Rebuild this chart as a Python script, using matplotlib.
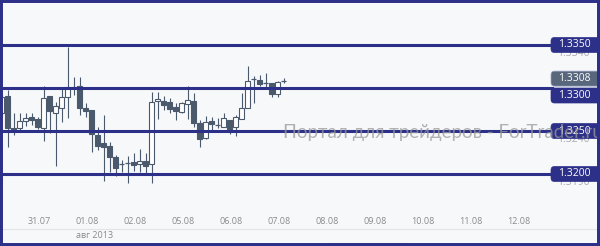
import matplotlib.pyplot as plt
import numpy as np
from matplotlib.patches import FancyBboxPatch, Rectangle
from matplotlib.transforms import IdentityTransform

# 3-hour candles, EUR/USD, end of July / early August 2013
opens = [1.3271, 1.3291, 1.3253, 1.3253, 1.3262, 1.3266, 1.3264, 1.3253, 1.3291, 1.3271,
         1.3277, 1.3290, 1.3301, 1.3302, 1.3277, 1.3274, 1.3245, 1.3236, 1.3233, 1.3220,
         1.3212, 1.3213, 1.3214, 1.3212, 1.3215, 1.3212, 1.3285, 1.3285, 1.3284, 1.3278,
         1.3272, 1.3281, 1.3285, 1.3259, 1.3242, 1.3262, 1.3257, 1.3255, 1.3263, 1.3255,
         1.3264, 1.3277, 1.3310, 1.3309, 1.3306, 1.3306, 1.3293, 1.3308]
highs = [1.3292, 1.3298, 1.3271, 1.3271, 1.3271, 1.3271, 1.3266, 1.3302, 1.3291, 1.3284,
         1.3300, 1.3348, 1.3313, 1.3313, 1.3283, 1.3274, 1.3255, 1.3269, 1.3237, 1.3222,
         1.3216, 1.3221, 1.3224, 1.3229, 1.3224, 1.3295, 1.3295, 1.3291, 1.3288, 1.3283,
         1.3284, 1.3302, 1.3294, 1.3263, 1.3267, 1.3266, 1.3265, 1.3271, 1.3263, 1.3269,
         1.3294, 1.3326, 1.3314, 1.3315, 1.3317, 1.3306, 1.3308, 1.3312]
lows = [1.3268, 1.3231, 1.3245, 1.3250, 1.3256, 1.3257, 1.3252, 1.3238, 1.3248, 1.3209,
        1.3260, 1.3265, 1.3292, 1.3269, 1.3266, 1.3226, 1.3228, 1.3192, 1.3202, 1.3198,
        1.3202, 1.3190, 1.3203, 1.3202, 1.3199, 1.3190, 1.3264, 1.3274, 1.3271, 1.3263,
        1.3271, 1.3264, 1.3255, 1.3231, 1.3241, 1.3250, 1.3253, 1.3255, 1.3247, 1.3244,
        1.3264, 1.3277, 1.3283, 1.3302, 1.3301, 1.3290, 1.3290, 1.3306]
closes = [1.3290, 1.3253, 1.3251, 1.3262, 1.3265, 1.3263, 1.3255, 1.3288, 1.3273, 1.3279,
          1.3290, 1.3301, 1.3300, 1.3277, 1.3273, 1.3247, 1.3233, 1.3231, 1.3220, 1.3207,
          1.3212, 1.3213, 1.3210, 1.3215, 1.3209, 1.3284, 1.3287, 1.3280, 1.3276, 1.3273,
          1.3283, 1.3286, 1.3259, 1.3241, 1.3260, 1.3258, 1.3257, 1.3265, 1.3251, 1.3266,
          1.3277, 1.3308, 1.3310, 1.3305, 1.3306, 1.3293, 1.3307, 1.3308]

levels = [1.3350, 1.3300, 1.3250, 1.3200]
last_price = closes[-1]
axis_labels = [1.3340, 1.3290, 1.3240, 1.3190]
day_labels = ['31.07', '01.08', '02.08', '05.08', '06.08', '07.08',
              '08.08', '09.08', '10.08', '11.08', '12.08']
month_label = 'авг 2013'
watermark = 'Портал для трейдеров - ForTrader.ru'

plt.rcParams['font.family'] = ['Open Sans', 'DejaVu Sans']

W, H = 600, 246
fig = plt.figure(figsize=(W / 100, H / 100), dpi=100)
fig.patch.set_facecolor('#f7f8fa')
ax = fig.add_axes([0, 0, 1, 1])
ax.set_facecolor('#f7f8fa')
ax.axis('off')

# one candle slot = 6 px, y scale 86 px per 0.01
ax.set_xlim(-0.25, 99.75)
ax.set_ylim(1.33 - 158 / 86 * 0.01, 1.33 + 88 / 86 * 0.01)

dark = '#4b596d'
navy = '#2c3089'

# candles
for i in range(len(opens)):
    o, h, l, c = opens[i], highs[i], lows[i], closes[i]
    ax.vlines(i, l, h, color=dark, lw=0.8, zorder=2)
    if abs(c - o) < 0.00005:
        ax.hlines(o, i - 0.45, i + 0.45, color=dark, lw=0.9, zorder=3)
    else:
        fc = dark if c < o else 'white'
        ax.bar(i, abs(c - o), bottom=min(o, c), width=0.78, color=fc,
               edgecolor=dark, lw=0.8, zorder=3)

# horizontal levels
for lv in levels:
    ax.axhline(lv, xmin=3 / W, xmax=552 / W, color=navy, lw=2.2, zorder=4)

# bottom separator and day labels
ax.plot([3 / W, 597 / W], [1 - 229 / H] * 2, color='#e4e4e8', lw=0.8,
        transform=ax.transAxes, zorder=1)
ticks = 6.25 + 8 * np.arange(len(day_labels))
for t, lab in zip(ticks, day_labels):
    ax.text(t, 1 - 222 / H, lab, ha='center', va='center', fontsize=6.5,
            color='#8a8a8a', transform=ax.get_xaxis_transform())
ax.text(ticks[1] - 1.75, 1 - 236 / H, month_label, ha='left', va='center',
        fontsize=6.5, color='#8a8a8a', transform=ax.get_xaxis_transform())

# faint price axis labels (mostly hidden by the level boxes)
for v in axis_labels:
    ax.text(573 / W, v, f'{v:.4f}', ha='center', va='center', fontsize=7.5,
            color='#a8a8b0', transform=ax.get_yaxis_transform(), zorder=5)

# watermark
ax.text(283 / W, 1 - 138 / H, watermark, ha='left', va='baseline',
        fontsize=13.5, family=['Lato', 'DejaVu Sans'],
        color='#9a9a9a', alpha=0.75, transform=ax.transAxes, zorder=8)

# price boxes in pixel space
fig.canvas.draw()
boxes = [(lv, navy) for lv in levels] + [(last_price, '#58677b')]
shift = {1.3300: -7.5, 1.3308: 2.5}
for val, col in boxes:
    yd = ax.transData.transform((0, val))[1] + shift.get(round(val, 4), 0)
    p = FancyBboxPatch((551, yd - 7.5), 52, 15,
                       boxstyle='round,pad=0,rounding_size=3.5',
                       fc=col, ec='#9aa3c8' if col != navy else col, lw=0.5,
                       transform=IdentityTransform(), zorder=6)
    ax.add_artist(p)
    ax.text(574, yd, f'{val:.4f}', ha='center', va='center', fontsize=7.5,
            color='white', transform=IdentityTransform(), zorder=7)

# scrollbar piece and frame
fig.add_artist(Rectangle((328, 0), 82, 3, transform=IdentityTransform(),
                         fc='#7b80b0', ec='none', zorder=9))
fig.add_artist(Rectangle((0, 0), 1, 1, transform=fig.transFigure, fill=False,
                         ec=navy, lw=4.3, zorder=10))

fig.savefig('out.png', dpi=100, facecolor=fig.get_facecolor())
